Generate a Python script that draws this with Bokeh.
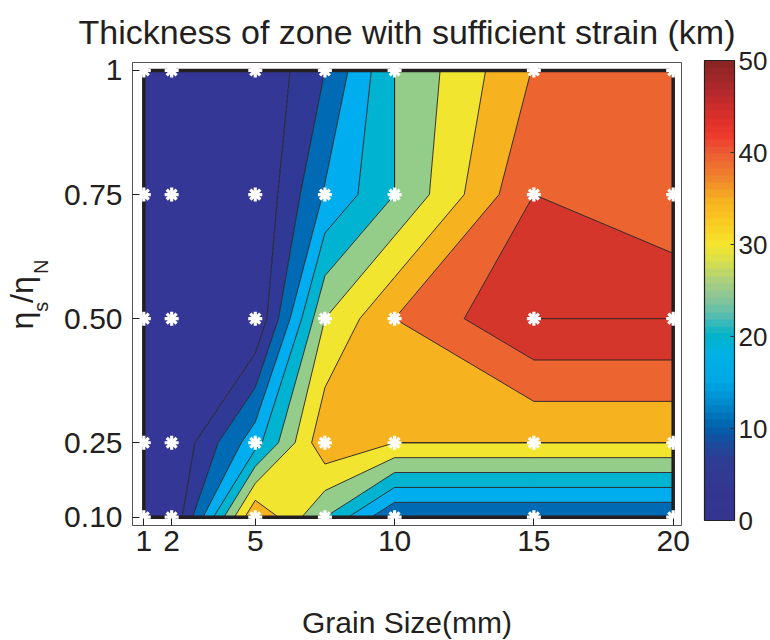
import numpy as np
from bokeh.plotting import figure
from bokeh.models import LinearColorMapper, ColorBar, FixedTicker, Range1d, LinearAxis
from bokeh.embed import file_html
from bokeh.resources import INLINE

# ---------------- data ----------------
grain_size = [1, 2, 5, 7.5, 10, 15, 20]                 # mm
viscosity_ratio = [0.10, 0.25, 0.50, 0.75, 1.00]      # eta_s / eta_N
# thickness (km) of zone with sufficient strain, one list per viscosity ratio row
thickness_r010 = [0, 0, 40, 25, 10, 10, 10]
thickness_r025 = [0, 0, 18, 39, 35, 35, 35]
thickness_r050 = [0, 0, 0, 30, 40, 50, 50]
thickness_r075 = [0, 0, 0, 15.5, 25, 45, 40.5]
thickness_r100 = [0, 0, 0, 10, 25, 40.3, 42]

contour_levels = [0, 5, 10, 15, 20, 25, 30, 35, 40, 45, 50]
x_ticks = [1, 2, 5, 10, 15, 20]
y_ticks = [0.10, 0.25, 0.50, 0.75, 1.00]
y_tick_labels = ["0.10", "0.25", "0.50", "0.75", "1"]
cbar_ticks = [0, 10, 20, 30, 40, 50]

# ---------------- styles ----------------
band_colors = ["#343795", "#303A96", "#006AB4", "#00AEEF", "#00B4D1",
               "#94CC89", "#F2E530", "#F7B31F", "#EC6531", "#D4362B"]
jet_anchors = [(0, "#35348E"), (3, "#33378F"), (6, "#2F3C92"), (8, "#1B4A9C"),
               (10, "#0062AD"), (13, "#0090D2"), (15, "#00A8E6"), (18, "#00B1E5"),
               (20, "#00B3C9"), (22, "#4FBCB3"), (24, "#86C59A"), (26, "#A9D07E"),
               (28, "#D4DD4F"), (30, "#F4E62F"), (32, "#FAD022"), (35, "#F7B120"),
               (37, "#F18A2B"), (40, "#EC5F33"), (42, "#EE3B2E"), (44, "#DD3029"),
               (47, "#B3282C"), (50, "#8B2523")]
FONT = "Liberation Sans"
TXT = "#231f20"
NB = "\u00a0"


def hex2rgb(h):
    h = h.lstrip("#")
    return [int(h[i:i + 2], 16) for i in (0, 2, 4)]


def make_palette(anchors, n=64):
    vals = np.array([a[0] for a in anchors], float)
    rgb = np.array([hex2rgb(a[1]) for a in anchors], float)
    out = []
    for t in np.linspace(vals[0], vals[-1], n):
        c = [int(round(np.interp(t, vals, rgb[:, k]))) for k in range(3)]
        out.append("#%02x%02x%02x" % tuple(c))
    return out


Z = np.array([thickness_r010, thickness_r025, thickness_r050,
              thickness_r075, thickness_r100], dtype=float)
X = np.array(grain_size, dtype=float)
Y = np.array(viscosity_ratio, dtype=float)

# outer levels nudged so that values equal to 0 / 50 are inside the filled bands
fill_levels = list(contour_levels)
fill_levels[0] -= 0.5
fill_levels[-1] += 0.5

p = figure(frame_width=549, frame_height=463,
           min_border_left=130, min_border_right=90,
           min_border_top=62, min_border_bottom=115,
           x_range=Range1d(0.594, 20.298), y_range=Range1d(0.0833, 1.016),
           output_backend="svg", toolbar_location=None,
           background_fill_color="white", border_fill_color="white")

p.contour(x=X, y=Y, z=Z, levels=fill_levels, fill_color=band_colors,
          line_color=TXT, line_width=0.9)

# contour lines that run exactly along grid edges (both ends equal to a level)
sx0, sy0, sx1, sy1 = [], [], [], []
for L in contour_levels[1:]:
    for j in range(Z.shape[0]):
        for i in range(Z.shape[1] - 1):
            if Z[j, i] == L and Z[j, i + 1] == L:
                sx0.append(X[i]); sy0.append(Y[j]); sx1.append(X[i + 1]); sy1.append(Y[j])
    for j in range(Z.shape[0] - 1):
        for i in range(Z.shape[1]):
            if Z[j, i] == L and Z[j + 1, i] == L:
                sx0.append(X[i]); sy0.append(Y[j]); sx1.append(X[i]); sy1.append(Y[j + 1])
p.segment(x0=sx0, y0=sy0, x1=sx1, y1=sy1, line_color=TXT, line_width=0.9)

# domain border
p.quad(left=[X.min()], right=[X.max()], bottom=[Y.min()], top=[Y.max()],
       fill_color=None, line_color=TXT, line_width=3.5)

# data points
XG, YG = np.meshgrid(X, Y)
p.scatter(XG.ravel(), YG.ravel(), marker="asterisk", size=14,
          line_color="white", line_width=3.2)

# axes
p.xgrid.visible = False
p.ygrid.visible = False
p.xaxis.ticker = FixedTicker(ticks=x_ticks)
p.yaxis.ticker = FixedTicker(ticks=y_ticks)
p.yaxis.major_label_overrides = {float(v): s for v, s in zip(y_ticks, y_tick_labels)}
for ax in (p.xaxis[0], p.yaxis[0]):
    ax.major_label_text_font = FONT
    ax.major_label_text_font_size = "30px"
    ax.major_label_text_color = TXT
    ax.axis_line_color = "#555555"
    ax.major_tick_line_color = TXT
    ax.major_tick_in = 7
    ax.major_tick_out = 0
    ax.minor_tick_line_color = None
p.xaxis.major_label_standoff = 5
p.yaxis.major_label_standoff = 10
p.outline_line_color = "#555555"

p.xaxis.axis_label = "Grain Size(mm)"
p.xaxis.axis_label_text_font = FONT
p.xaxis.axis_label_text_font_size = "30px"
p.xaxis.axis_label_text_font_style = "normal"
p.xaxis.axis_label_text_color = TXT
p.xaxis.axis_label_standoff = 52


# y label  eta_s / eta_N : subscripts on an inner blank axis, etas on an outer one
def label_axis(text, size, standoff):
    ax = LinearAxis(ticker=FixedTicker(ticks=[]), axis_line_color=None,
                    major_tick_line_color=None, minor_tick_line_color=None,
                    major_tick_in=0, major_tick_out=0, major_label_standoff=0,
                    axis_label=text, axis_label_text_font=FONT,
                    axis_label_text_font_size=size, axis_label_text_font_style="normal",
                    axis_label_text_color=TXT, axis_label_standoff=standoff)
    p.add_layout(ax, "left")
    return ax


label_axis(NB * 3 + "s" + NB * 5 + "N", "20px", 10)
label_axis("η" + NB + "/η" + NB * 2, "32px", -13)

# title
p.title.text = "Thickness of zone with sufficient strain (km)"
p.title.text_font = FONT
p.title.text_font_size = "34px"
p.title.text_font_style = "normal"
p.title.text_color = TXT
p.title.align = "center"
p.title.vertical_align = "top"
p.title.standoff = 19

# colour bar
mapper = LinearColorMapper(palette=make_palette(jet_anchors, 64),
                           low=contour_levels[0], high=contour_levels[-1])
cb = ColorBar(color_mapper=mapper, ticker=FixedTicker(ticks=cbar_ticks),
              location=(572, 5), width=30, height=460, padding=0, margin=0,
              bar_line_color=TXT, bar_line_width=1.2,
              major_tick_line_color="#333333", major_tick_in=4, major_tick_out=0,
              minor_tick_line_color=None, label_standoff=4,
              major_label_text_font=FONT, major_label_text_font_size="26px",
              major_label_text_color=TXT, background_fill_color=None,
              border_line_color=None)
p.add_layout(cb, "center")

open("out.html", "w").write(file_html(p, INLINE))
